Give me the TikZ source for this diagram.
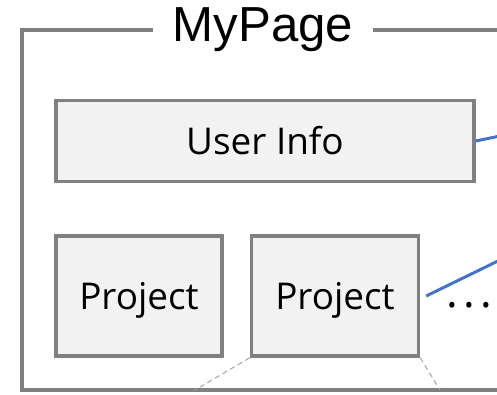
\documentclass[tikz,border=0pt]{standalone}
\usepackage{fontspec}
\setmainfont{Open Sans}
\newfontfamily\titlefont{Liberation Sans}
\usetikzlibrary{positioning}

\definecolor{linkblue}{RGB}{68,114,196}

\begin{document}
\begin{tikzpicture}[
    x = 0.02cm,
    y = -0.02cm,
    frame/.style = {draw=black!50, line width=2.2pt},
    title/.style = {fill=white, inner xsep=11pt, font=\titlefont\fontsize{28}{32}\selectfont},
    box/.style = {draw=black!50, line width=2pt, fill=black!5, text height=15pt, text depth=0pt, font=\fontsize{21}{25}\selectfont},
    link/.style = {draw=linkblue, line width=1.7pt},
    zoomline/.style = {draw=black!35, densely dashed, line width=0.6pt}
]
    \useasboundingbox (0,0) rectangle (497,395);
    \clip (0,0) rectangle (497,395);

    % Frame
    \draw [frame] (22,30) rectangle (540,390);
    \node [title] (page) at (263,30) {MyPage};

    % Nodes
    \node [box, minimum width=8.36cm, minimum height=1.62cm] (userinfo) at (265,141) {User Info};
    \node [box, minimum width=3.32cm, minimum height=2.4cm] (projA) at (139,296) {Project};
    \node [box, minimum width=3.34cm, minimum height=2.4cm, right=0.52cm of projA] (projB) {Project};
    \node [anchor=base, font=\fontsize{25}{28}\selectfont] (more) at (469,307) {.\hspace{3pt}.\hspace{3pt}.};

    % Edges
    \coordinate (outA) at (500,136);
    \coordinate (outB) at (500,260);
    \draw [link] (userinfo.east) -- (outA);
    \draw [link] ([xshift=3.4pt]projB.east) -- (outB);

    % Zoom lines
    \coordinate (zl) at (195,390);
    \coordinate (zr) at (440,390);
    \draw [zoomline] (projB.south west) -- (zl);
    \draw [zoomline] (projB.south east) -- (zr);

\end{tikzpicture}
\end{document}
